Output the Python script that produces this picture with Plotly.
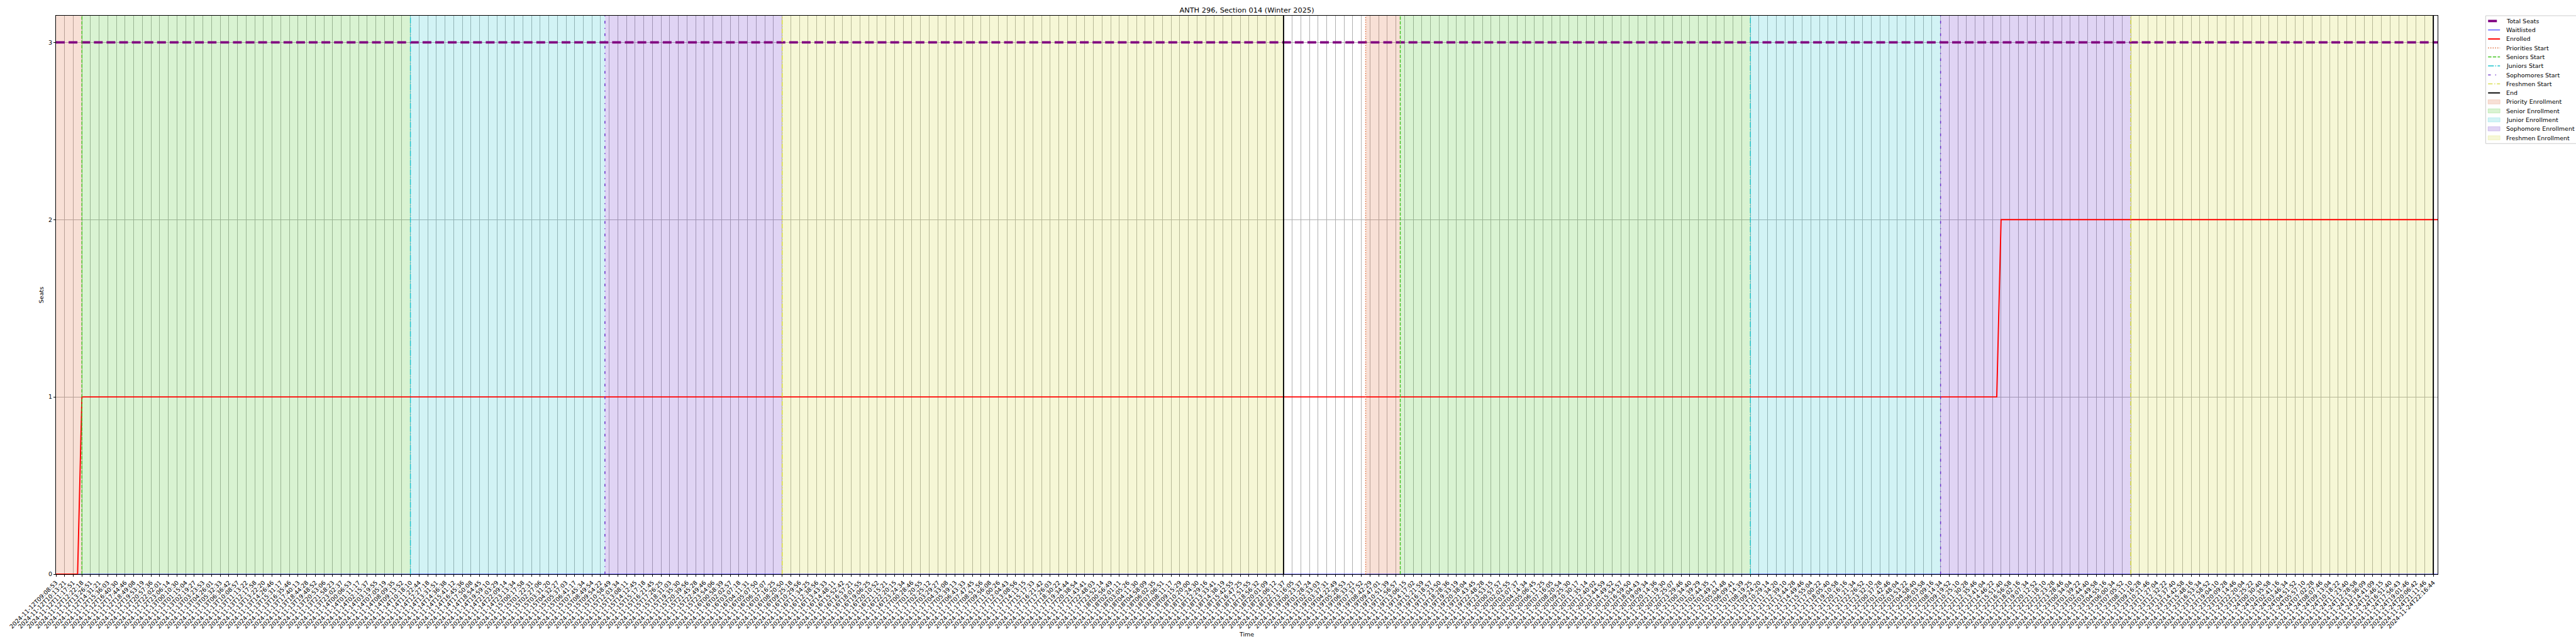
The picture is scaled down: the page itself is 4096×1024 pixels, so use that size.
import plotly.graph_objects as go

S = 0.682              # reference -> window scale
PT = 100 / 72 * S      # one matplotlib point, in output px

# ---------------- data ----------------
title_text = "ANTH 296, Section 014 (Winter 2025)"

tick_labels = [
    "2024-11-12T09:08:53", "2024-11-12T10:13:21", "2024-11-12T11:17:51", "2024-11-12T12:22:18",
    "2024-11-12T13:26:51", "2024-11-12T14:31:21", "2024-11-12T15:36:03", "2024-11-12T16:40:30",
    "2024-11-12T17:44:46", "2024-11-12T18:49:08", "2024-11-12T19:53:19", "2024-11-12T20:57:36",
    "2024-11-12T22:02:01", "2024-11-12T23:06:14", "2024-11-13T00:10:30", "2024-11-13T01:15:04",
    "2024-11-13T02:19:27", "2024-11-13T03:23:53", "2024-11-13T04:26:01", "2024-11-13T05:32:33",
    "2024-11-13T06:36:42", "2024-11-13T10:08:57", "2024-11-13T11:13:22", "2024-11-13T12:17:58",
    "2024-11-13T13:22:20", "2024-11-13T14:26:46", "2024-11-13T15:31:17", "2024-11-13T16:35:46",
    "2024-11-13T17:40:13", "2024-11-13T18:44:28", "2024-11-13T19:48:52", "2024-11-13T20:53:06",
    "2024-11-13T21:58:23", "2024-11-13T23:02:37", "2024-11-14T00:06:53", "2024-11-14T01:11:17",
    "2024-11-14T02:15:37", "2024-11-14T03:19:55", "2024-11-14T07:05:19", "2024-11-14T08:09:35",
    "2024-11-14T09:13:52", "2024-11-14T10:18:10", "2024-11-14T11:22:44", "2024-11-14T12:27:18",
    "2024-11-14T13:31:51", "2024-11-14T14:36:38", "2024-11-14T15:41:12", "2024-11-14T16:45:36",
    "2024-11-14T17:50:08", "2024-11-14T18:54:45", "2024-11-14T19:59:10", "2024-11-14T21:03:29",
    "2024-11-14T22:09:14", "2024-11-14T23:13:34", "2024-11-15T00:17:58", "2024-11-15T01:22:31",
    "2024-11-15T02:27:06", "2024-11-15T03:31:20", "2024-11-15T04:32:27", "2024-11-15T05:37:03",
    "2024-11-15T06:41:17", "2024-11-15T07:45:34", "2024-11-15T08:49:54", "2024-11-15T09:54:22",
    "2024-11-15T10:58:49", "2024-11-15T12:03:34", "2024-11-15T13:08:11", "2024-11-15T14:12:45",
    "2024-11-15T15:17:18", "2024-11-15T16:21:45", "2024-11-15T17:26:25", "2024-11-15T18:31:03",
    "2024-11-15T19:35:30", "2024-11-15T20:39:56", "2024-11-15T21:45:28", "2024-11-15T22:49:46",
    "2024-11-15T23:54:06", "2024-11-16T00:58:39", "2024-11-16T02:02:57", "2024-11-16T03:07:18",
    "2024-11-16T04:11:31", "2024-11-16T05:07:50", "2024-11-16T06:12:07", "2024-11-16T07:16:25",
    "2024-11-16T08:20:50", "2024-11-16T09:25:18", "2024-11-16T10:29:56", "2024-11-16T11:34:25",
    "2024-11-16T12:38:56", "2024-11-16T13:43:33", "2024-11-16T14:48:11", "2024-11-16T15:52:42",
    "2024-11-16T16:57:21", "2024-11-16T18:01:55", "2024-11-16T19:06:25", "2024-11-16T20:10:52",
    "2024-11-16T21:15:21", "2024-11-16T22:20:15", "2024-11-16T23:24:34", "2024-11-17T00:28:46",
    "2024-11-17T01:20:55", "2024-11-17T02:25:12", "2024-11-17T03:29:27", "2024-11-17T04:33:08",
    "2024-11-17T05:39:13", "2024-11-17T06:43:33", "2024-11-17T07:47:45", "2024-11-17T08:51:56",
    "2024-11-17T09:56:08", "2024-11-17T11:00:26", "2024-11-17T12:04:43", "2024-11-17T13:08:56",
    "2024-11-17T14:13:15", "2024-11-17T15:17:33", "2024-11-17T16:21:42", "2024-11-17T17:26:03",
    "2024-11-17T18:30:22", "2024-11-17T19:34:44", "2024-11-17T20:38:54", "2024-11-17T21:43:41",
    "2024-11-17T22:48:03", "2024-11-17T23:52:14", "2024-11-18T00:56:49", "2024-11-18T02:01:11",
    "2024-11-18T03:05:26", "2024-11-18T04:11:30", "2024-11-18T04:58:09", "2024-11-18T06:02:35",
    "2024-11-18T07:06:51", "2024-11-18T08:11:17", "2024-11-18T09:15:29", "2024-11-18T10:20:00",
    "2024-11-18T11:24:30", "2024-11-18T12:29:16", "2024-11-18T13:33:41", "2024-11-18T14:38:19",
    "2024-11-18T15:42:55", "2024-11-18T16:47:25", "2024-11-18T17:51:55", "2024-11-18T18:56:32",
    "2024-11-18T20:01:09", "2024-11-18T21:06:12", "2024-11-18T22:11:37", "2024-11-18T23:16:05",
    "2024-11-19T00:23:37", "2024-11-19T01:28:24", "2024-11-19T02:33:03", "2024-11-19T03:37:31",
    "2024-11-19T04:22:49", "2024-11-19T05:28:53", "2024-11-19T06:33:21", "2024-11-19T07:37:52",
    "2024-11-19T08:42:29", "2024-11-19T09:47:01", "2024-11-19T10:51:39", "2024-11-19T11:56:57",
    "2024-11-19T13:06:15", "2024-11-19T14:17:02", "2024-11-19T15:21:59", "2024-11-19T16:18:57",
    "2024-11-19T17:23:50", "2024-11-19T18:28:36", "2024-11-19T19:33:19", "2024-11-19T20:38:04",
    "2024-11-19T21:43:45", "2024-11-19T22:48:28", "2024-11-19T23:53:15", "2024-11-20T00:57:57",
    "2024-11-20T02:02:55", "2024-11-20T03:07:37", "2024-11-20T04:14:34", "2024-11-20T05:06:45",
    "2024-11-20T06:11:25", "2024-11-20T07:16:05", "2024-11-20T08:20:54", "2024-11-20T09:25:30",
    "2024-11-20T10:30:17", "2024-11-20T11:35:14", "2024-11-20T12:40:02", "2024-11-20T13:44:59",
    "2024-11-20T14:49:52", "2024-11-20T15:54:57", "2024-11-20T16:59:50", "2024-11-20T18:04:43",
    "2024-11-20T19:09:34", "2024-11-20T20:14:36", "2024-11-20T21:19:30", "2024-11-20T22:25:07",
    "2024-11-20T23:29:46", "2024-11-21T00:34:40", "2024-11-21T01:39:29", "2024-11-21T02:44:35",
    "2024-11-21T03:49:17", "2024-11-21T05:04:48", "2024-11-21T06:09:41", "2024-11-21T07:14:39",
    "2024-11-21T08:19:25", "2024-11-21T09:24:20", "2024-11-21T10:29:14", "2024-11-21T11:34:20",
    "2024-11-21T12:39:10", "2024-11-21T13:44:28", "2024-11-21T14:49:46", "2024-11-21T15:55:04",
    "2024-11-21T17:00:22", "2024-11-21T18:05:40", "2024-11-21T19:10:58", "2024-11-21T20:16:16",
    "2024-11-21T21:21:34", "2024-11-21T22:26:52", "2024-11-21T23:32:10", "2024-11-22T00:37:28",
    "2024-11-22T01:42:46", "2024-11-22T02:48:04", "2024-11-22T03:53:22", "2024-11-22T04:58:40",
    "2024-11-22T06:03:58", "2024-11-22T07:09:16", "2024-11-22T08:14:34", "2024-11-22T09:19:52",
    "2024-11-22T10:25:10", "2024-11-22T11:30:28", "2024-11-22T12:35:46", "2024-11-22T13:41:04",
    "2024-11-22T14:46:22", "2024-11-22T15:51:40", "2024-11-22T16:56:58", "2024-11-22T18:02:16",
    "2024-11-22T19:07:34", "2024-11-22T20:12:52", "2024-11-22T21:18:10", "2024-11-22T22:23:28",
    "2024-11-22T23:28:46", "2024-11-23T00:34:04", "2024-11-23T01:39:22", "2024-11-23T02:44:40",
    "2024-11-23T03:49:58", "2024-11-23T04:55:16", "2024-11-23T06:00:34", "2024-11-23T07:05:52",
    "2024-11-23T08:11:10", "2024-11-23T09:16:28", "2024-11-23T10:21:46", "2024-11-23T11:27:04",
    "2024-11-23T12:32:22", "2024-11-23T13:37:40", "2024-11-23T14:42:58", "2024-11-23T15:48:16",
    "2024-11-23T16:53:34", "2024-11-23T17:58:52", "2024-11-23T19:04:10", "2024-11-23T20:09:28",
    "2024-11-23T21:14:46", "2024-11-23T22:20:04", "2024-11-23T23:25:22", "2024-11-24T00:30:40",
    "2024-11-24T01:35:58", "2024-11-24T02:41:16", "2024-11-24T03:46:34", "2024-11-24T04:51:52",
    "2024-11-24T05:57:10", "2024-11-24T07:02:28", "2024-11-24T08:07:46", "2024-11-24T09:13:04",
    "2024-11-24T10:18:22", "2024-11-24T11:23:40", "2024-11-24T12:28:58", "2024-11-24T13:36:09",
    "2024-11-24T14:41:09", "2024-11-24T15:46:15", "2024-11-24T16:51:40", "2024-11-24T17:56:43",
    "2024-11-24T19:01:46", "2024-11-24T20:06:42", "2024-11-24T21:11:46", "2024-11-24T22:16:44",
]

# series (x in tick-index units; samples are every half tick)
seats_x = [0.0, 275.5]
seats_y = [3, 3]
waitlisted_x = [0.0, 275.5]
waitlisted_y = [0, 0]
enrolled_x = [0.0, 2.5, 3.0, 224.5, 225.0, 275.5]
enrolled_y = [0, 0, 1, 1, 2, 2]

# phase markers (x in tick-index units)
priorities_start = [151.5]
seniors_start = [3.0, 155.5]
juniors_start = [41.0, 196.0]
sophomores_start = [63.5, 218.0]
freshmen_start = [84.0, 240.0]
end_marks = [142.0, 275.0]

priority_spans = [(0.0, 3.0), (151.5, 155.5)]
senior_spans = [(3.0, 41.0), (155.5, 196.0)]
junior_spans = [(41.0, 63.5), (196.0, 218.0)]
sophomore_spans = [(63.5, 84.0), (218.0, 240.0)]
freshmen_spans = [(84.0, 142.0), (240.0, 275.0)]

x_range = [0.0, 275.5]
y_range = [0.0, 3.15]
y_ticks = [0, 1, 2, 3]

# ---------------- style ----------------
FONT = "DejaVu Sans"
C_PRI = (220, 100, 50)
C_SEN = (65, 195, 30)
C_JUN = (30, 195, 205)
C_SOP = (100, 40, 200)
C_FRE = (210, 215, 50)
FILL_A = 0.2
LW = 1.5  # phase-marker line width (pt)


def rgb(c, a=None):
    if a is None:
        return "rgb(%d,%d,%d)" % c
    return "rgba(%d,%d,%d,%.2f)" % (c + (a,))


def px(*vals):
    return ",".join("%.1fpx" % (v * PT) for v in vals)


def vlines(xs):
    X, Y = [], []
    for v in xs:
        X += [v, v, None]
        Y += [y_range[0], y_range[1], None]
    return X, Y


def spans(pairs):
    X, Y = [], []
    for a, b in pairs:
        X += [a, a, b, b, a, None]
        Y += [y_range[0], y_range[1], y_range[1], y_range[0], y_range[0], None]
    return X, Y


line_entries = [
    ("Total Seats", seats_x, seats_y, dict(color="purple", width=4 * PT, dash=px(14.8, 6.4))),
    ("Waitlisted", waitlisted_x, waitlisted_y, dict(color="blue", width=1 * PT)),
    ("Enrolled", enrolled_x, enrolled_y, dict(color="red", width=2 * PT)),
]
marker_entries = [
    ("Priorities Start", priorities_start, dict(color=rgb(C_PRI), width=LW * PT, dash=px(1 * LW, 1.65 * LW))),
    ("Seniors Start", seniors_start, dict(color=rgb(C_SEN), width=LW * PT, dash=px(3.7 * LW, 1.6 * LW))),
    ("Juniors Start", juniors_start, dict(color=rgb(C_JUN), width=LW * PT, dash=px(6.4 * LW, 1.6 * LW, 1 * LW, 1.6 * LW))),
    ("Sophomores Start", sophomores_start, dict(color=rgb(C_SOP), width=LW * PT, dash=px(3 * LW, 5 * LW, 1 * LW, 5 * LW))),
    ("Freshmen Start", freshmen_start, dict(color=rgb(C_FRE), width=LW * PT, dash=px(5 * LW, 2 * LW, 1 * LW, 2 * LW))),
    ("End", end_marks, dict(color="black", width=2 * PT)),
]
span_entries = [
    ("Priority Enrollment", priority_spans, C_PRI),
    ("Senior Enrollment", senior_spans, C_SEN),
    ("Junior Enrollment", junior_spans, C_JUN),
    ("Sophomore Enrollment", sophomore_spans, C_SOP),
    ("Freshmen Enrollment", freshmen_spans, C_FRE),
]

fig = go.Figure()

for name, pairs, col in span_entries:
    X, Y = spans(pairs)
    fig.add_trace(go.Scatter(x=X, y=Y, mode="lines", fill="toself", fillcolor=rgb(col, FILL_A),
                             line=dict(width=0, color=rgb(col, FILL_A)), name=name,
                             showlegend=False, hoverinfo="skip"))
for name, xs, ys, ln in line_entries:
    fig.add_trace(go.Scatter(x=xs, y=ys, mode="lines", name=name, line=ln, showlegend=False))
for name, xs, ln in marker_entries:
    X, Y = vlines(xs)
    fig.add_trace(go.Scatter(x=X, y=Y, mode="lines", name=name, line=ln, showlegend=False))

# ---------------- layout ----------------
W, H = 4096, 1024
left, right, top, bottom = 131 * S, 5683 * S, 37 * S, 1339 * S
tick_font = dict(family=FONT, size=10 * PT, color="black")


def paper_x(p):
    return (p - left) / (right - left)


def paper_y(p):
    return (bottom - p) / (bottom - top)


# legend (matplotlib-style, outside right)
shapes, annotations = [], []
lg_left, lg_top, lg_bottom = 5795 * S, 37 * S, 335 * S
shapes.append(dict(type="rect", xref="paper", yref="paper", x0=paper_x(lg_left), x1=paper_x(W + 10),
                   y0=paper_y(lg_bottom), y1=paper_y(lg_top), line=dict(color="#cccccc", width=1),
                   fillcolor="white", layer="above"))
row0, row_step = 49.3 * S, 20.95 * S
h0, h1, tx = 5800.6 * S, 5828.4 * S, 5839.5 * S
entries = ([(n, "line", ln) for n, _, _, ln in line_entries]
           + [(n, "line", ln) for n, _, ln in marker_entries]
           + [(n, "patch", c) for n, _, c in span_entries])
for i, (name, kind, sty) in enumerate(entries):
    yc = row0 + i * row_step
    if kind == "line":
        shapes.append(dict(type="line", xref="paper", yref="paper", x0=paper_x(h0), x1=paper_x(h1),
                           y0=paper_y(yc), y1=paper_y(yc), line=sty, layer="above"))
    else:
        hh = 0.35 * 10 * PT
        shapes.append(dict(type="rect", xref="paper", yref="paper", x0=paper_x(h0), x1=paper_x(h1),
                           y0=paper_y(yc + hh), y1=paper_y(yc - hh), fillcolor=rgb(sty, FILL_A),
                           line=dict(color=rgb(sty, FILL_A), width=1), layer="above"))
    annotations.append(dict(text=name, xref="paper", yref="paper", x=paper_x(tx), y=paper_y(yc),
                            xanchor="left", yanchor="middle", showarrow=False,
                            font=dict(family=FONT, size=10 * PT, color="black")))

fig.update_layout(
    width=W, height=H,
    margin=dict(l=left, r=W - right, t=top, b=H - bottom, pad=0, autoexpand=False),
    paper_bgcolor="white", plot_bgcolor="white",
    font=dict(family=FONT, size=10 * PT, color="black"),
    title=dict(text=title_text, x=0.5, xref="paper", xanchor="center",
               y=1 - 23 * S / H, yref="container", yanchor="middle",
               font=dict(family=FONT, size=12 * PT, color="black")),
    showlegend=False,
    shapes=shapes, annotations=annotations,
    hovermode=False,
)

fig.update_xaxes(
    range=x_range, tickmode="array", tickvals=list(range(len(tick_labels))), ticktext=tick_labels,
    tickangle=-45, tickfont=tick_font, ticks="outside", ticklen=3.5 * PT, tickwidth=0.8 * PT,
    tickcolor="black", showgrid=True, gridcolor="#b0b0b0", gridwidth=0.8 * PT, zeroline=False,
    showline=True, linecolor="black", linewidth=0.8 * PT, mirror=True, automargin=False,
    title=dict(text="Time", font=dict(family=FONT, size=10 * PT), standoff=4),
)
fig.update_yaxes(
    range=y_range, tickmode="array", tickvals=y_ticks, ticktext=[str(v) for v in y_ticks],
    tickfont=tick_font, ticks="outside", ticklen=3.5 * PT, tickwidth=0.8 * PT, tickcolor="black",
    showgrid=True, gridcolor="#b0b0b0", gridwidth=0.8 * PT, zeroline=False,
    showline=True, linecolor="black", linewidth=0.8 * PT, mirror=True, automargin=False,
    title=dict(text="Seats", font=dict(family=FONT, size=10 * PT), standoff=5),
)

fig.write_html("out.html", config={"displayModeBar": False},
               post_script="document.body.style.margin='0';document.body.style.overflow='hidden';")
